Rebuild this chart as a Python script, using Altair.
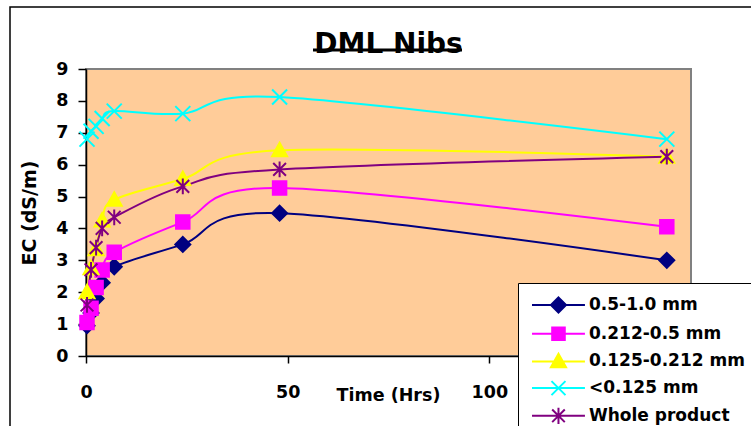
import altair as alt
import pandas as pd

# ---- data ----
times = [0.25, 1.25, 2.5, 4, 7, 24, 48, 144]
series_names = ["0.5-1.0 mm", "0.212-0.5 mm", "0.125-0.212 mm", "<0.125 mm", "Whole product"]
ec_05_10 = [0.95, 1.35, 1.8, 2.3, 2.8, 3.5, 4.48, 3.0]
ec_0212_05 = [1.05, 1.5, 2.15, 2.7, 3.25, 4.2, 5.27, 4.05]
ec_0125_0212 = [2.0, 2.75, 3.35, 4.25, 4.9, 5.55, 6.45, 6.25]
ec_lt0125 = [6.8, 7.05, 7.2, 7.45, 7.68, 7.6, 8.12, 6.8]
ec_whole = [1.6, 2.7, 3.4, 4.0, 4.35, 5.32, 5.85, 6.25]
x_ticks = [0, 50, 100]
y_ticks = [0, 1, 2, 3, 4, 5, 6, 7, 8, 9]

colors = ["#000080", "#FF00FF", "#FFFF00", "#00FFFF", "#800080"]

# marker shapes (unit coords)
marker_paths = [
    "M0,-1L1,0L0,1L-1,0Z",
    "M-0.9,-0.9L0.9,-0.9L0.9,0.9L-0.9,0.9Z",
    "M0,-1L1,0.8L-1,0.8Z",
    "M-1,-1L1,1M-1,1L1,-1",
    "M-0.85,-0.85L0.85,0.85M-0.85,0.85L0.85,-0.85M0,-1.05L0,1.05",
]
# legend symbols: unit = 14 px; line from -0.57 to 3.21, marker centred at 1.32
L0, L1, C = -0.57, 3.21, 1.32
def sh(pts):
    return "".join(f"{c}{x + C:.3f},{y:.3f}" for c, x, y in pts)
h = 0.54
legend_paths = [
    f"M{L0},0L{L1},0" + sh([("M", 0, -h), ("L", h, 0), ("L", 0, h), ("L", -h, 0)]) + "Z",
    f"M{L0},0L{L1},0" + sh([("M", -0.45, -0.45), ("L", 0.45, -0.45), ("L", 0.45, 0.45), ("L", -0.45, 0.45)]) + "Z",
    f"M{L0},0L{L1},0" + sh([("M", 0, -h), ("L", h, 0.42), ("L", -h, 0.42)]) + "Z",
    f"M{L0},0L{L1},0" + sh([("M", -0.5, -0.5), ("L", 0.5, 0.5), ("M", -0.5, 0.5), ("L", 0.5, -0.5)]),
    f"M{L0},0L{L1},0" + sh([("M", -0.45, -0.45), ("L", 0.45, 0.45), ("M", -0.45, 0.45), ("L", 0.45, -0.45),
                             ("M", 0, -0.58), ("L", 0, 0.58)]),
]

all_values = [ec_05_10, ec_0212_05, ec_0125_0212, ec_lt0125, ec_whole]
rows = []
for name, vals, col, mk in zip(series_names, all_values, colors, marker_paths):
    for t, v in zip(times, vals):
        rows.append({"Series": name, "t": t, "ec": v, "col": col, "mk": mk})
df = pd.DataFrame(rows)

FONT = "DejaVu Sans"

xenc = alt.X("t:Q", scale=alt.Scale(domain=[0, 150], nice=False),
             axis=alt.Axis(values=x_ticks, title="Time (Hrs)", grid=False,
                           labelFont=FONT, labelFontSize=17.5, labelFontWeight="bold", labelColor="black",
                           labelFlush=False, labelOverlap=False,
                           tickSize=7, tickColor="black", tickWidth=1.5,
                           domainColor="black", domainWidth=1.5, labelPadding=20,
                           titleFont=FONT, titleFontSize=17.5, titleFontWeight="bold", titleColor="black",
                           titleX=302, titleY=44, titleBaseline="alphabetic", titleAlign="center"))
yenc = alt.Y("ec:Q", scale=alt.Scale(domain=[0, 9], nice=False),
             axis=alt.Axis(values=y_ticks, title="EC (dS/m)", grid=False,
                           labelFont=FONT, labelFontSize=17.5, labelFontWeight="bold", labelColor="black",
                           labelFlush=False, labelOverlap=False,
                           tickSize=8, tickColor="black", tickWidth=1.5,
                           domainColor="black", domainWidth=1.5, labelPadding=10,
                           titleFont=FONT, titleFontSize=19, titleFontWeight="bold", titleColor="black",
                           titleAngle=-90, titleX=-51, titleY=143.5, titleBaseline="alphabetic",
                           titleAlign="center"))

col_scale = alt.Scale(domain=series_names, range=colors)

base = alt.Chart(df)

lines = base.mark_line(interpolate="cardinal", strokeWidth=2).encode(
    x=xenc, y=yenc,
    stroke=alt.Stroke("col:N", scale=None),
    detail="Series:N",
    order="t:Q",
)

points = base.mark_point(filled=True, size=225, strokeWidth=2, opacity=1).encode(
    x=xenc, y=yenc,
    shape=alt.Shape("mk:N", scale=None),
    fill=alt.Fill("col:N", scale=None),
    stroke=alt.Stroke("col:N", scale=None),
)

leg = alt.Legend(orient="none", legendX=432, legendY=214, title=None,
                 labelFont=FONT, labelFontSize=17, labelFontWeight="bold", labelColor="black",
                 labelLimit=400, labelOffset=34,
                 symbolSize=784, symbolStrokeWidth=2,
                 strokeColor="black", fillColor="white", padding=7, rowPadding=1.7)

legend_layer = base.mark_point(filled=True, size=784, strokeWidth=2, opacity=1).encode(
    x=xenc, y=yenc,
    shape=alt.Shape("Series:N", scale=alt.Scale(domain=series_names, range=legend_paths), legend=leg),
    fill=alt.Fill("Series:N", scale=col_scale, legend=leg),
    stroke=alt.Stroke("Series:N", scale=col_scale, legend=leg),
).transform_filter("datum.t < 0")

one = alt.Chart(pd.DataFrame({"k": [0]}))
frame = one.mark_rect(fill=None, stroke="black", strokeWidth=1.5).encode(
    x=alt.value(-76), x2=alt.value(800), y=alt.value(-62), y2=alt.value(500))
underline = one.mark_rule(stroke="black", strokeWidth=3).encode(
    x=alt.value(227), x2=alt.value(376), y=alt.value(-19))

chart = alt.layer(frame, lines, points, legend_layer, underline).properties(
    width=605, height=287,
    autosize=alt.AutoSizeParams(type="none"),
    padding={"left": 86, "top": 69, "right": 60, "bottom": 70},
    background="white",
    title=alt.TitleParams("DML Nibs", font=FONT, fontSize=28, fontWeight="bold", color="black",
                          anchor="middle", baseline="alphabetic", offset=0, dy=75, frame="group"),
).configure_view(fill="#FFCC99", stroke="#808080", strokeWidth=2
).configure_axis(labelOverlap=False)

chart.save("out.html", embed_options={"renderer": "svg", "actions": False})
